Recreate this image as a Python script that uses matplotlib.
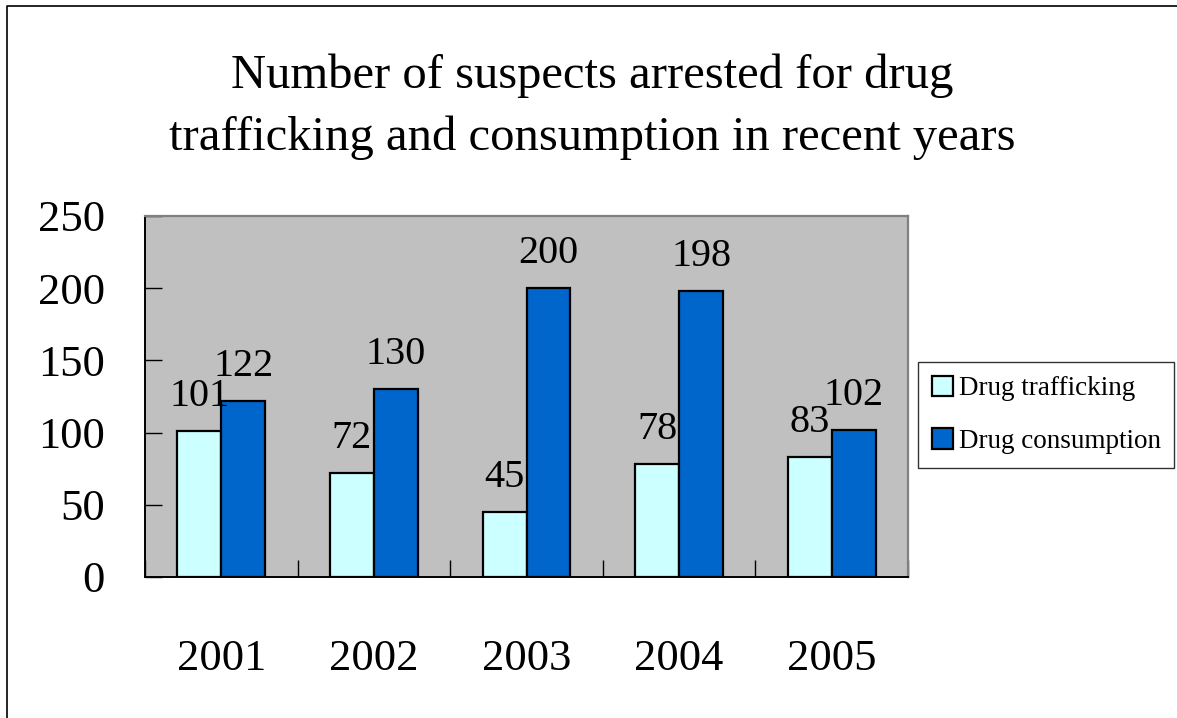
import matplotlib
matplotlib.use("Agg")
import matplotlib.pyplot as plt
from matplotlib.lines import Line2D
import numpy as np

plt.rcParams['font.family'] = ['Liberation Serif', 'DejaVu Serif']

# chart data
years = ["2001", "2002", "2003", "2004", "2005"]
trafficking = [101, 72, 45, 78, 83]
consumption = [122, 130, 200, 198, 102]
series_names = ["Drug trafficking", "Drug consumption"]
yticks = [0, 50, 100, 150, 200, 250]

fig = plt.figure(figsize=(11.77, 7.18), dpi=100)
ax = fig.add_axes([0.1232, 0.1964, 0.6483, 0.5028])
ax.set_facecolor("#C0C0C0")

x = np.arange(len(years))
w = 0.288
b1 = ax.bar(x - w / 2, trafficking, w, color="#CCFFFF", edgecolor="black",
            linewidth=1.6, label=series_names[0], zorder=3)
b2 = ax.bar(x + w / 2, consumption, w, color="#0066CC", edgecolor="black",
            linewidth=1.6, label=series_names[1], zorder=3)

# value labels above each bar
for bars, vals in ((b1, trafficking), (b2, consumption)):
    for rect, v in zip(bars, vals):
        ax.annotate(str(v), (rect.get_x() + rect.get_width() / 2, v),
                    xytext=(0, 18), textcoords="offset points",
                    ha="center", va="baseline", fontsize=29)

ax.set_xlim(-0.5, len(years) - 0.5)
ax.set_ylim(0, 250)
ax.set_yticks(yticks)
ax.set_yticklabels([str(t) for t in yticks])
ax.tick_params(axis="y", direction="in", length=12, width=1.0, pad=29,
               labelsize=32, right=False)

# year labels at group centres, tick marks between groups
ax.set_xticks(x)
ax.set_xticklabels(years)
ax.tick_params(axis="x", which="major", length=0, pad=45, labelsize=32)
ax.set_xticks(np.arange(len(years) + 1) - 0.5, minor=True)
ax.tick_params(axis="x", which="minor", direction="in", length=12, width=1.0)

for side in ("top", "right"):
    ax.spines[side].set_color("#808080")
    ax.spines[side].set_linewidth(1.6)
for side in ("left", "bottom"):
    ax.spines[side].set_color("black")
    ax.spines[side].set_linewidth(1.4)

fig.text(0.503, 0.851, "Number of suspects arrested for drug\n"
         "trafficking and consumption in recent years",
         ha="center", va="center", fontsize=35, linespacing=1.51)

leg = fig.legend(handles=[b1, b2], loc="upper left",
                 bbox_to_anchor=(918 / 1177, 1 - 362 / 718),
                 fontsize=19.5, frameon=True, fancybox=False, shadow=False,
                 handlelength=0.8, handleheight=0.8, handletextpad=0.2,
                 borderpad=0.5, labelspacing=1.0, borderaxespad=0)
leg.get_frame().set_edgecolor("black")
leg.get_frame().set_linewidth(1.0)

# outer frame: left and top edges
fx = 7 / 1177
fy = 1 - 6 / 718
fig.add_artist(Line2D([fx, fx, 1], [0, fy, fy], transform=fig.transFigure,
                      color="black", linewidth=1.2))

fig.savefig("out.png", dpi=100)
